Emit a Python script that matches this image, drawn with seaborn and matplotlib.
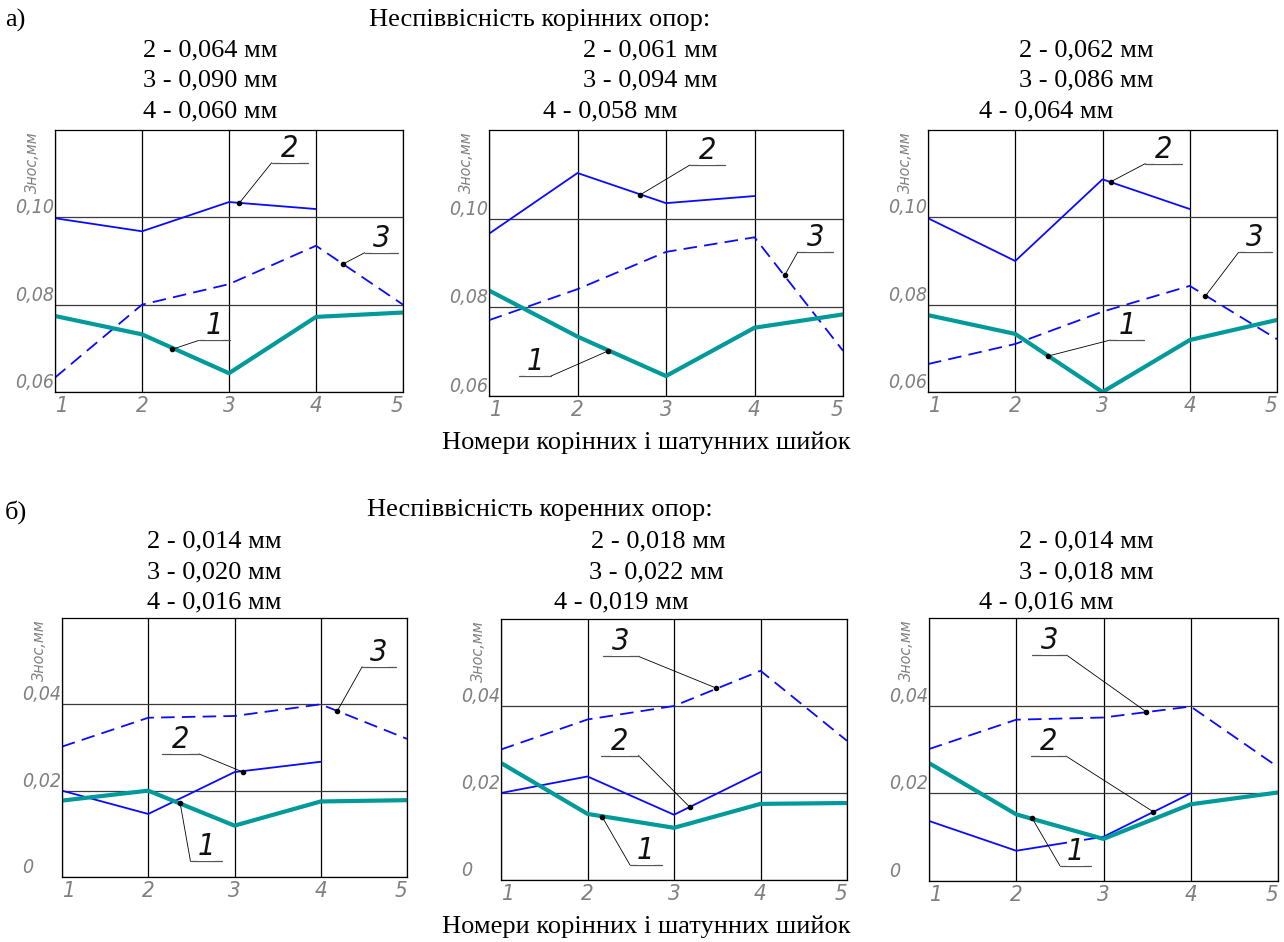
import matplotlib
matplotlib.use("Agg")
import matplotlib.pyplot as plt
import seaborn as sns

# data
x5 = [1, 2, 3, 4, 5]
x4 = [1, 2, 3, 4]

# а) top row
a1_c1 = [0.0774, 0.0732, 0.0643, 0.0772, 0.0782]
a1_c2 = [0.0998, 0.0968, 0.1035, 0.1019]
a1_c3 = [0.0633, 0.0800, 0.0847, 0.0935, 0.0800]
a2_c1 = [0.0838, 0.0734, 0.0645, 0.0754, 0.0784]
a2_c2 = [0.0966, 0.1103, 0.1035, 0.1051]
a2_c3 = [0.0771, 0.0841, 0.0925, 0.0958, 0.0702]
a3_c1 = [0.0776, 0.0733, 0.0600, 0.0719, 0.0765]
a3_c2 = [0.0998, 0.0900, 0.1087, 0.1019]
a3_c3 = [0.0664, 0.0710, 0.0784, 0.0843, 0.0721]

# б) bottom row
b1_c1 = [0.0177, 0.0200, 0.0119, 0.0175, 0.0178]
b1_c2 = [0.0200, 0.0146, 0.0243, 0.0267]
b1_c3 = [0.0302, 0.0369, 0.0373, 0.0400, 0.0320]
b2_c1 = [0.0269, 0.0152, 0.0120, 0.0175, 0.0177]
b2_c2 = [0.0200, 0.0238, 0.0150, 0.0248]
b2_c3 = [0.0300, 0.0369, 0.0400, 0.0481, 0.0320]
b3_c1 = [0.0269, 0.0152, 0.0096, 0.0175, 0.0202]
b3_c2 = [0.0137, 0.0069, 0.0101, 0.0200]
b3_c3 = [0.0301, 0.0368, 0.0373, 0.0398, 0.0260]

top_yticks = [0.06, 0.08, 0.10]
top_ylabels = ["0,06", "0,08", "0,10"]
bot_yticks = [0.0, 0.02, 0.04]
bot_ylabels = ["0", "0,02", "0,04"]

top_title = "Неспіввісність корінних опор:"
bot_title = "Неспіввісність коренних опор:"
xlabel_txt = "Номери корінних і шатунних шийок"
ylabel_txt = "Знос,мм"

a_notes = [["2 - 0,064 мм", "3 - 0,090 мм", "4 - 0,060 мм"],
           ["2 - 0,061 мм", "3 - 0,094 мм", "4 - 0,058 мм"],
           ["2 - 0,062 мм", "3 - 0,086 мм", "4 - 0,064 мм"]]
b_notes = [["2 - 0,014 мм", "3 - 0,020 мм", "4 - 0,016 мм"],
           ["2 - 0,018 мм", "3 - 0,022 мм", "4 - 0,019 мм"],
           ["2 - 0,014 мм", "3 - 0,018 мм", "4 - 0,016 мм"]]

# leader labels: (label, point x, point y, shelf x0, shelf x1, shelf y)
a_leaders = [
    [("2", 3.12, 0.1033, 3.49, 3.91, 0.1125), ("3", 4.31, 0.0893, 4.56, 4.94, 0.0919), ("1", 2.35, 0.0698, 2.65, 3.01, 0.0718)],
    [("2", 2.71, 0.1054, 3.27, 3.67, 0.1121), ("3", 4.34, 0.0872, 4.49, 4.89, 0.0925), ("1", 2.35, 0.0702, 1.34, 1.70, 0.0645)],
    [("2", 3.10, 0.1082, 3.49, 3.91, 0.1123), ("3", 4.18, 0.0820, 4.56, 4.94, 0.0920), ("1", 2.37, 0.0682, 3.09, 3.47, 0.0719)],
]
b_leaders = [
    [("2", 3.10, 0.0243, 2.16, 2.59, 0.0285), ("3", 4.19, 0.0384, 4.48, 4.87, 0.0487), ("1", 2.37, 0.0171, 2.49, 2.86, 0.0036)],
    [("3", 3.49, 0.0441, 2.18, 2.59, 0.0514), ("2", 3.18, 0.0168, 2.16, 2.59, 0.0286), ("1", 2.17, 0.0145, 2.49, 2.86, 0.0035)],
    [("3", 3.49, 0.0386, 2.18, 2.58, 0.0515), ("2", 3.57, 0.0158, 2.17, 2.57, 0.0285), ("1", 2.18, 0.0144, 2.50, 2.86, 0.0035)],
]

sns.set_theme(style="white")
plt.rcParams['font.family'] = ['Liberation Serif', 'DejaVu Serif']

W, H = 1284, 942
fig = plt.figure(figsize=(W / 100, H / 100), dpi=100)

narrow = ['Liberation Sans Narrow', 'DejaVu Sans']
gfont = dict(family=narrow, style='italic', stretch='condensed')
blue = "#0a0aff"
teal = "#009a9a"
gray = "#808080"

# pixel boxes of the six panels: left, top, right, bottom
boxes_a = [(55, 130, 403, 392), (489, 130, 843, 396), (928, 130, 1277, 392)]
boxes_b = [(62, 618, 407, 877), (501, 619, 847, 880), (929, 618, 1278, 881)]


def add_panel(box, c1, c2, c3, ylim, yticks, ylabels, leaders):
    l, t, r, b = box
    ax = fig.add_axes([l / W, 1 - b / H, (r - l) / W, (b - t) / H])
    sns.lineplot(x=x5, y=c3, ax=ax, color=blue, linewidth=1.3)
    sns.lineplot(x=x4, y=c2, ax=ax, color=blue, linewidth=1.3)
    sns.lineplot(x=x5, y=c1, ax=ax, color=teal, linewidth=3.0)
    ax.lines[0].set_dashes((7.5, 4))
    ax.set_xlim(1, 5)
    ax.set_ylim(*ylim)
    ax.set_xticks(x5)
    ax.set_xticklabels([str(v) for v in x5], fontsize=16, color=gray, **gfont)
    xt = ax.get_xticklabels()
    xt[0].set_ha('left')
    xt[-1].set_ha('right')
    ax.set_yticks(yticks)
    ax.set_yticklabels(ylabels, fontsize=14, color=gray, **gfont)
    for lab in ax.get_yticklabels():
        lab.set_ha('left')
        lab.set_va('bottom')
    ax.tick_params(axis='y', length=0, pad=29)
    ax.tick_params(axis='x', length=0, pad=3)
    ax.xaxis.grid(True, color='black', linewidth=0.9)
    ax.yaxis.grid(True, color='#3a3a3a', linewidth=0.9)
    for s in ax.spines.values():
        s.set_color('black')
        s.set_linewidth(0.9)
    ax.set_xlabel("")
    ax.set_ylabel("")
    ax.text(-0.065, 0.995, ylabel_txt, transform=ax.transAxes, rotation=90, ha='center', va='top',
            fontsize=11.5, color=gray, **gfont)
    for lab, px, py, sx0, sx1, sy in leaders:
        ex = sx0 if px < sx0 else sx1
        ax.plot([px, ex], [py, sy], color='black', linewidth=0.6, clip_on=False, zorder=5)
        ax.plot([sx0, sx1], [sy, sy], color='#555555', linewidth=0.9, clip_on=False, zorder=5)
        ax.plot([px], [py], marker='o', markersize=3, color='black', zorder=6)
        ax.text((sx0 + sx1) / 2, sy, lab, ha='center', va='bottom', fontsize=22, color='#111111', zorder=7,
                bbox=dict(facecolor='white', edgecolor='none', pad=0), **gfont)
    return ax


a_data = [(a1_c1, a1_c2, a1_c3), (a2_c1, a2_c2, a2_c3), (a3_c1, a3_c2, a3_c3)]
b_data = [(b1_c1, b1_c2, b1_c3), (b2_c1, b2_c2, b2_c3), (b3_c1, b3_c2, b3_c3)]

for box, (c1, c2, c3), lead in zip(boxes_a, a_data, a_leaders):
    add_panel(box, c1, c2, c3, (0.06, 0.12), top_yticks, top_ylabels, lead)
for box, (c1, c2, c3), lead in zip(boxes_b, b_data, b_leaders):
    add_panel(box, c1, c2, c3, (0.0, 0.06), bot_yticks, bot_ylabels, lead)


def ftext(px, py, s, ha='center', size=19):
    fig.text(px / W, 1 - py / H, s, ha=ha, va='center', fontsize=size, color='black')


# header texts, pixel centres
a_centres = [(210, 210, 210), (650, 650, 610), (1086, 1086, 1046)]
b_centres = [(214, 214, 214), (658, 656, 621), (1086, 1086, 1046)]
rows_a = [50, 80, 111]
rows_b = [541, 572, 602]

ftext(5, 20, "а)", ha='left')
ftext(540, 20, top_title)
for notes, cx in zip(a_notes, a_centres):
    for s, x, y in zip(notes, cx, rows_a):
        ftext(x, y, s)
ftext(646, 443, xlabel_txt)

ftext(5, 512, "б)", ha='left')
ftext(540, 510, bot_title)
for notes, cx in zip(b_notes, b_centres):
    for s, x, y in zip(notes, cx, rows_b):
        ftext(x, y, s)
ftext(646, 927, xlabel_txt)

fig.savefig("out.png", dpi=100, facecolor='white')
